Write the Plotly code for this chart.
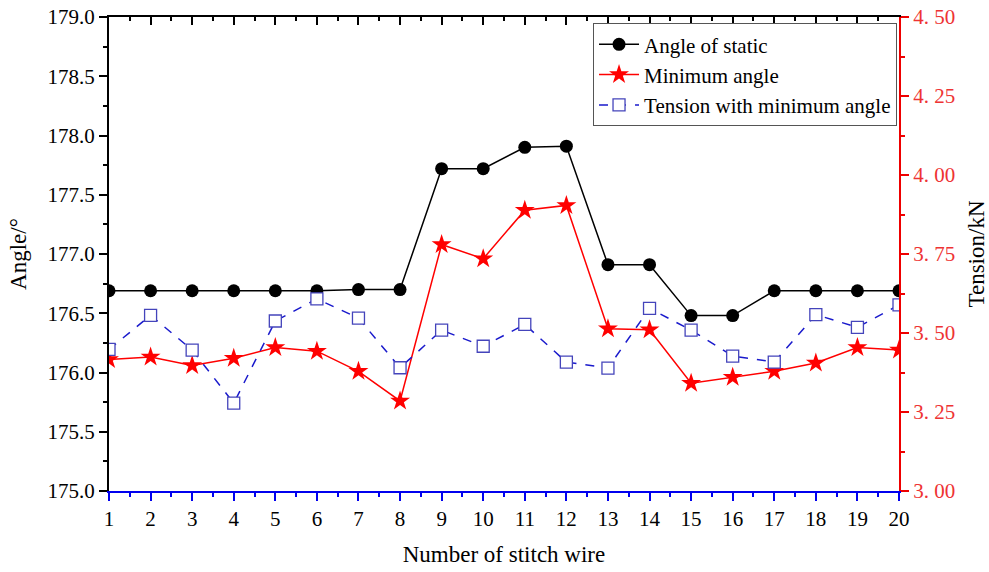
import plotly.graph_objects as go

stitch = list(range(1, 21))
angle_static = [176.69, 176.69, 176.69, 176.69, 176.69, 176.69, 176.70, 176.70,
                177.72, 177.72, 177.90, 177.91, 176.91, 176.91, 176.48, 176.48,
                176.69, 176.69, 176.69, 176.69]
min_angle = [176.11, 176.13, 176.06, 176.12, 176.21, 176.18, 176.01, 175.76,
             177.08, 176.96, 177.37, 177.41, 176.37, 176.36, 175.91, 175.96,
             176.01, 176.08, 176.21, 176.19]
tension = [3.448, 3.556, 3.446, 3.278, 3.538, 3.608, 3.547, 3.390,
           3.509, 3.458, 3.527, 3.408, 3.389, 3.578, 3.509, 3.427,
           3.408, 3.558, 3.518, 3.589]
left_ticks = [175.0, 175.5, 176.0, 176.5, 177.0, 177.5, 178.0, 178.5, 179.0]
left_labels = ["175.0", "175.5", "176.0", "176.5", "177.0", "177.5", "178.0", "178.5", "179.0"]
right_ticks = [3.00, 3.25, 3.50, 3.75, 4.00, 4.25, 4.50]
right_labels = ["3. 00", "3. 25", "3. 50", "3. 75", "4. 00", "4. 25", "4. 50"]

FONT = "Liberation Serif, Times New Roman, serif"

fig = go.Figure()
fig.add_trace(go.Scatter(x=stitch, y=angle_static, name="Angle of static",
                         mode="lines+markers",
                         line=dict(color="black", width=1.5),
                         marker=dict(symbol="circle", size=13, color="black")))
fig.add_trace(go.Scatter(x=stitch, y=min_angle, name="Minimum angle",
                         mode="lines+markers",
                         line=dict(color="#ff0000", width=1.5),
                         marker=dict(symbol="star", size=15, color="#ff0000")))
fig.add_trace(go.Scatter(x=stitch, y=tension, name="Tension with minimum angle",
                         mode="lines+markers", yaxis="y2",
                         line=dict(color="#1a1acc", width=1.5, dash="dash"),
                         marker=dict(symbol="square", size=12, color="white",
                                     line=dict(width=1.3, color="#4444bb"))))
# invisible trace to anchor the top axis
fig.add_trace(go.Scatter(x=[stitch[0]], y=[left_ticks[0]], xaxis="x2", showlegend=False,
                         mode="markers", marker=dict(opacity=0), hoverinfo="skip"))

fig.update_layout(
    width=989, height=572,
    margin=dict(l=109, r=90, t=17, b=81),
    plot_bgcolor="white", paper_bgcolor="white",
    font=dict(family=FONT, size=20, color="black"),
    showlegend=True,
    legend=dict(x=0.9975, y=0.987, xanchor="right", yanchor="top",
                bordercolor="#555555", borderwidth=1, bgcolor="white",
                font=dict(family=FONT, size=21), tracegroupgap=0,
                itemwidth=40),
    xaxis=dict(range=[1, 20], tickvals=stitch, ticktext=[str(s) for s in stitch],
               showgrid=False, zeroline=False, automargin=False,
               showline=True, linecolor="#0000ee", linewidth=2,
               ticks="outside", tickcolor="#0000ee", ticklen=8, tickwidth=1.5,
               minor=dict(dtick=0.5, tick0=0.5, ticks="outside", ticklen=4,
                          tickcolor="#0000ee", tickwidth=1.5),
               tickfont=dict(family=FONT, size=21, color="black"),
               title=dict(text="Number of stitch wire",
                          font=dict(family=FONT, size=23), standoff=16)),
    xaxis2=dict(range=[1, 20], overlaying="x", side="top", showgrid=False,
                automargin=False,
                zeroline=False, showline=True, linecolor="black", linewidth=2,
                tickvals=stitch, ticks="inside", ticklen=8, tickwidth=1.5,
                tickcolor="black", showticklabels=False,
                minor=dict(dtick=0.5, tick0=0.5, ticks="inside", ticklen=4,
                           tickcolor="black", tickwidth=1.5)),
    yaxis=dict(range=[175.0, 179.0], tickvals=left_ticks, ticktext=left_labels,
               automargin=False,
               showgrid=False, zeroline=False, showline=True, linecolor="black",
               linewidth=2, ticks="outside", ticklen=8, tickwidth=1.5, tickcolor="black",
               minor=dict(dtick=0.25, tick0=175.0, ticks="outside", ticklen=4,
                          tickcolor="black", tickwidth=1.5),
               tickfont=dict(family=FONT, size=21, color="black"),
               title=dict(text="Angle/°", font=dict(family=FONT, size=23), standoff=14)),
    yaxis2=dict(range=[3.0, 4.5], overlaying="y", side="right", tickvals=right_ticks,
                automargin=False,
                ticktext=right_labels, showgrid=False, zeroline=False,
                showline=True, linecolor="#ee0000", linewidth=2,
                ticks="outside", ticklen=8, tickwidth=1.5, tickcolor="#ee0000",
                minor=dict(dtick=0.125, tick0=3.0, ticks="outside", ticklen=4,
                           tickcolor="#ee0000", tickwidth=1.5),
                tickfont=dict(family=FONT, size=21, color="#ee3333"),
                title=dict(text="Tension/kN", font=dict(family=FONT, size=23, color="black"),
                           standoff=14)),
)

fig.write_html("out.html", config={"displayModeBar": False},
               post_script="document.body.style.margin='0';document.body.style.overflow='hidden';")
